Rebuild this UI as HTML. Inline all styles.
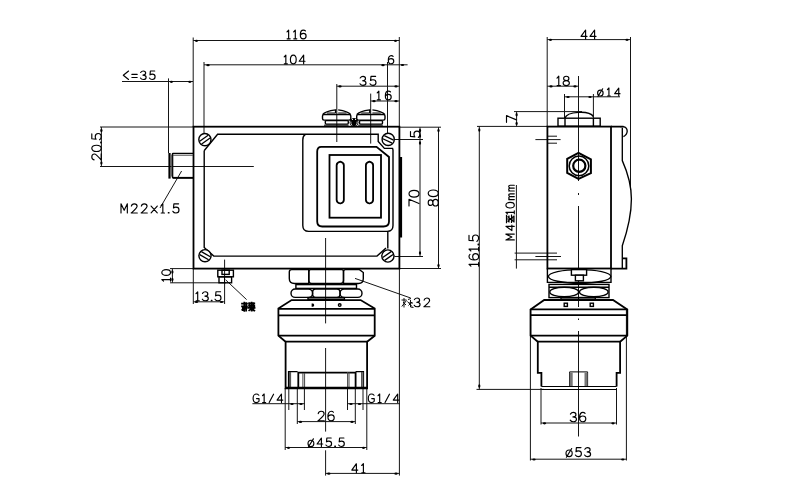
<!DOCTYPE html>
<html><head><meta charset="utf-8">
<style>
html,body{margin:0;padding:0;background:#fff;width:800px;height:500px;overflow:hidden}
svg{display:block}
text{font-family:"Liberation Sans",sans-serif;fill:#1a1a1a}
.t{stroke:#151515;stroke-width:1;fill:none}
.g{stroke:#444;stroke-width:1;fill:none}
.m{stroke:#000;stroke-width:1.4;fill:none}
.k{stroke:#000;stroke-width:1.8;fill:none}
.w{fill:#fff}
</style></head><body>
<svg width="800" height="500" viewBox="0 0 800 500">

<g class="t">
<path d="M193.2,37.5V127 M399.3,37V127 M193.2,40.5H399.3"/>
<path d="M204,62V133 M387.5,62V134 M204,64.8H407.6"/>
<path d="M122,81.5H193 M168.5,78.4V153"/>
<path d="M336.8,84V142 M336.8,86.2H399.3"/>
<path d="M370.7,93.6V143.6 M370.7,101H399.3"/>
<path d="M100,127H193 M100,166.5H253.8 M101.4,127V166.5"/>
<path d="M181.6,171L160,208"/>
<path d="M170,268.6H193 M170,282.8H226 M172.4,268.6V282.8"/>
<path d="M193.3,268V304 M224.6,259.6V304 M193.3,301.8H224.6"/>
<path d="M225.6,279.8L246.6,299.6"/>
<path d="M399,127.2H441 M420,127.2V256.5 M394,139.5H423 M394.4,256.5H423 M438.5,127.2V268.5 M399,268.5H441"/>
<path d="M399.4,268V475.6 M325.5,473.4H399.4"/>
<path d="M252.4,403.7H305 M288.8,388V410 M297.3,388V424 M304.4,388V410"/>
<path d="M347.6,403.7H400 M347.5,388V410 M355.3,388V424 M363,388V410"/>
<path d="M297.3,421.6H355.3"/>
<path d="M285.2,388V450 M366.8,388V450 M285.2,447.5H366.8"/>
<path d="M355,278.4L410.7,298"/>
<path d="M325.6,238V323.4 M325.6,348V431.6 M325.6,450.3V475.6"/>
</g>
<g fill="#000">
<ellipse cx="196.5" cy="40.8" rx="1.7" ry="1.1"/>
<ellipse cx="395.5" cy="40.8" rx="1.7" ry="1.1"/>
<ellipse cx="208" cy="65.2" rx="1.7" ry="1.1"/>
<ellipse cx="383" cy="65.2" rx="1.7" ry="1.1"/>
<ellipse cx="402.5" cy="65" rx="1.7" ry="1.1"/>
<ellipse cx="171.4" cy="81.8" rx="1.7" ry="1.1"/>
<ellipse cx="189.8" cy="81.8" rx="1.7" ry="1.1"/>
<ellipse cx="340" cy="86.4" rx="1.7" ry="1.1"/>
<ellipse cx="396" cy="86.4" rx="1.7" ry="1.1"/>
<ellipse cx="374" cy="101.2" rx="1.7" ry="1.1"/>
<ellipse cx="396" cy="101.2" rx="1.7" ry="1.1"/>
<ellipse cx="196.5" cy="302" rx="1.7" ry="1.1"/>
<ellipse cx="221.5" cy="302" rx="1.7" ry="1.1"/>
<ellipse cx="300.5" cy="421.9" rx="1.7" ry="1.1"/>
<ellipse cx="352" cy="421.9" rx="1.7" ry="1.1"/>
<ellipse cx="288.5" cy="447.8" rx="1.7" ry="1.1"/>
<ellipse cx="363.5" cy="447.8" rx="1.7" ry="1.1"/>
<ellipse cx="328.8" cy="473.7" rx="1.7" ry="1.1"/>
<ellipse cx="396" cy="473.7" rx="1.7" ry="1.1"/>
<ellipse cx="292" cy="404" rx="1.7" ry="1.1"/>
<ellipse cx="301" cy="404" rx="1.7" ry="1.1"/>
<ellipse cx="351" cy="404" rx="1.7" ry="1.1"/>
<ellipse cx="359.5" cy="404" rx="1.7" ry="1.1"/>
<ellipse cx="101.4" cy="130.5" rx="1.1" ry="1.7"/>
<ellipse cx="101.4" cy="163" rx="1.1" ry="1.7"/>
<ellipse cx="172.4" cy="272" rx="1.1" ry="1.7"/>
<ellipse cx="172.4" cy="279.5" rx="1.1" ry="1.7"/>
<ellipse cx="420" cy="130.5" rx="1.1" ry="1.7"/>
<ellipse cx="420" cy="136" rx="1.1" ry="1.7"/>
<ellipse cx="420" cy="143" rx="1.1" ry="1.7"/>
<ellipse cx="420" cy="253" rx="1.1" ry="1.7"/>
<ellipse cx="438.5" cy="130.5" rx="1.1" ry="1.7"/>
<ellipse cx="438.5" cy="265.5" rx="1.1" ry="1.7"/>
</g>
<rect x="193.5" y="126.7" width="205.9" height="141.9" class="k"/>
<rect x="399.6" y="157" width="2.5" height="80.5" fill="#000"/>
<rect x="168.4" y="153" width="2.2" height="25.6" fill="#000"/>
<path d="M172.6,153.4H193.3 M172.6,153V178 M172.6,177.8H193.3" class="m"/>
<path d="M173,155.2H193 M171.7,154.5V176.6" class="g"/>
<path d="M172.6,177.8H193.3" stroke="#000" stroke-width="1.8"/>
<g class="m">
<path d="M204.1,150.8L217.6,134.2H378.2V141.5L384.4,148.4H392.6L393,150V225.5Q393,231.4 387.2,231.4H308.7Q302.8,231.4 302.8,225.5V140Q302.8,136 305.6,134.2"/>
<path d="M204.2,150.8V247.5L213.8,256.1H377L386,248"/>
<path d="M387.8,231.4V248.4"/>
</g>
<g class="k">
<path d="M321.2,146.8H376.5L389,157V221.5Q389,226.5 383.5,226.5H322.2Q317.2,226.5 317.2,221.5V151.6Q317.2,146.8 321.2,146.8Z"/>
<rect x="329.5" y="155" width="51.5" height="62.7"/>
</g>
<g class="k" stroke-width="1.6">
<path d="M336.65,165.2Q336.65,162.6 340.25,161.7Q343.85,162.6 343.85,165.2V199.9Q343.85,202.6 340.25,203.5Q336.65,202.6 336.65,199.9Z"/>
<path d="M365.9,165.2Q365.9,162.6 369.5,161.7Q373.1,162.6 373.1,165.2V199.9Q373.1,202.6 369.5,203.5Q365.9,202.6 365.9,199.9Z"/>
</g>
<g class="m" stroke-width="1.5">
<circle cx="204.9" cy="139.6" r="6.1" class="w"/>
<circle cx="205" cy="255.7" r="6.1" class="w"/>
<circle cx="388.2" cy="139.4" r="6.1" class="w"/>
<circle cx="387.9" cy="256" r="6.1" class="w"/>
</g>
<g stroke="#000" stroke-width="1.3" fill="none">
<path d="M199.70,141.16L208.15,135.25"/>
<path d="M201.65,143.95L210.10,138.04"/>
<path d="M201.39,251.65L210.31,256.80"/>
<path d="M199.69,254.60L208.61,259.75"/>
<path d="M384.25,135.68L393.59,140.04"/>
<path d="M382.81,138.76L392.15,143.12"/>
<path d="M382.70,257.56L391.15,251.65"/>
<path d="M384.65,260.35L393.10,254.44"/>
</g>
<g class="m" stroke-width="1.5">
<path d="M322.8,114.4Q325,111.3 335.6,109.9V113 M338.2,109.9Q348,111.3 350.6,114.4"/>
<path d="M327,113H335.6 M338.2,113H346.5" stroke-width="1"/>
<rect x="322.5" y="114.5" width="28.3" height="5.6" rx="1.5"/>
<rect x="325.3" y="120.6" width="23" height="3.5" rx="1"/>
<path d="M324,125.2H348.6" stroke-width="1"/>
<path d="M357.0,114.4Q359.2,111.3 369.8,109.9V113 M372.4,109.9Q382.2,111.3 384.8,114.4"/>
<path d="M361.2,113H369.8 M372.4,113H380.7" stroke-width="1"/>
<rect x="356.7" y="114.5" width="28.3" height="5.6" rx="1.5"/>
<rect x="359.5" y="120.6" width="23" height="3.5" rx="1"/>
<path d="M358.2,125.2H382.8" stroke-width="1"/>
</g>
<circle cx="354" cy="122.4" r="4.4" fill="#000"/>
<path d="M350.8,121.5Q350.6,123.8 352,125.5 M357.2,121.5Q357.4,123.8 356,125.5" stroke="#fff" stroke-width="0.8" fill="none"/>
<circle cx="352.4" cy="119.4" r="0.6" fill="#fff"/><circle cx="355.6" cy="119.4" r="0.6" fill="#fff"/>
<g class="m" stroke-width="1.3">
<rect x="217.8" y="270.2" width="15.6" height="6.6"/>
<rect x="222" y="270.2" width="7.2" height="4.2"/>
<rect x="219" y="276.8" width="12.6" height="6"/>
<path d="M224.5,276.8V282.8" stroke-width="1"/>
</g>
<g class="m" stroke-width="1.5">
<path d="M291.5,269.6H308.8V283.5H294.5Q289.3,283.5 289.3,278.5V272Q289.3,269.6 291.5,269.6Z"/>
<path d="M310.5,269.6H342Q343.5,269.6 343.5,272V280.5Q343.5,283.5 340.5,283.5H311.5Q308.8,283.5 308.8,280.5V272Q308.8,269.6 310.5,269.6Z"/>
<path d="M345.3,269.6H359.5L363.3,272.5V278.5Q363.3,283.5 358.5,283.5H343.5V272Q343.5,269.6 345.3,269.6Z"/>
<rect x="295.9" y="284.6" width="60.6" height="3.8"/>
<rect x="291" y="289" width="21.6" height="8.4" rx="4.2"/>
<rect x="312.6" y="289" width="27.4" height="8.4" rx="3"/>
<rect x="340" y="289" width="22" height="8.4" rx="4.2"/>
<rect x="308" y="297.6" width="36.4" height="1.8"/>
</g>
<g class="k" stroke-width="1.7">
<path d="M291.6,300.1H360.6L374.7,308.6V335.7L367.1,341.7V388.4H285.6V341.7L278.4,335.7V308.4Z"/>
<path d="M278.4,308.8H374.7 M278.4,315.3H374.7 M278.4,335.7H374.7 M285.6,341.7H367.1"/>
</g>
<path d="M311.6,303.4H313.2Q315.2,305.1 313.2,306.8H311.6Z" fill="#000"/>
<circle cx="339.7" cy="305.1" r="1.3" class="m" stroke-width="1.2"/>
<g class="m">
<path d="M288.6,388V371.6H297.6 M355.6,371.6H363.4V388"/>
</g>
<g class="k" stroke-width="1.7">
<path d="M298.3,388V372.6H355.6V388"/>
</g>
<g class="g">
<path d="M289.6,372V388 M290.6,372V388 M302.9,373V388 M304.6,373V388 M347.6,372V388 M349,372V388 M361.6,372V388 M363,372V388"/>
</g>
<path d="M285.4,387.9H367" stroke="#000" stroke-width="2.4"/>
<g class="t">
<path d="M547.2,37V127 M630.5,37V190 M547.2,39.6H630.5"/>
<path d="M547.2,86.2H578.5"/>
<path d="M564.5,94V118 M593.4,94V118 M564.5,96.8H620"/>
<path d="M514,111.6H582 M477,126.4H547 M516.6,111.6V126.4"/>
<path d="M479.3,126.4V389.4 M476.5,389.4H544"/>
<path d="M516.4,185V268.6"/>
<path d="M547,136.2H557 M535.4,139.6H560.6 M547,143.2H557"/>
<path d="M514.6,253.1H557 M535.4,256.5H561 M514.6,259.8H557"/>
<path d="M578.5,76V181 M578.5,193V195 M578.5,206V307 M578.5,318.5V320 M578.5,331V436.5"/>
<path d="M541,388V424.5 M616.5,388V424.5 M541,423H616.5"/>
<path d="M530.4,309V460.5 M626.4,309V460.5 M530.4,459.2H626.4"/>
</g>
<g fill="#000">
<ellipse cx="550.5" cy="39.8" rx="1.7" ry="1.1"/>
<ellipse cx="627" cy="39.8" rx="1.7" ry="1.1"/>
<ellipse cx="551" cy="86.4" rx="1.7" ry="1.1"/>
<ellipse cx="575" cy="86.4" rx="1.7" ry="1.1"/>
<ellipse cx="568" cy="97" rx="1.7" ry="1.1"/>
<ellipse cx="590" cy="97" rx="1.7" ry="1.1"/>
<ellipse cx="544.5" cy="423.3" rx="1.7" ry="1.1"/>
<ellipse cx="613" cy="423.3" rx="1.7" ry="1.1"/>
<ellipse cx="534" cy="459.5" rx="1.7" ry="1.1"/>
<ellipse cx="622.8" cy="459.5" rx="1.7" ry="1.1"/>
<ellipse cx="516.6" cy="114.8" rx="1.1" ry="1.7"/>
<ellipse cx="516.6" cy="123.4" rx="1.1" ry="1.7"/>
<ellipse cx="479.3" cy="130" rx="1.1" ry="1.7"/>
<ellipse cx="479.3" cy="386" rx="1.1" ry="1.7"/>
</g>
<g class="k">
<rect x="547.4" y="126.6" width="63.6" height="141.9"/>
<path d="M611,126.6H623.5 M611,268.6H626.4V258.4H622.8" />
<path d="M620,126.6H623.2Q627.2,127.2 627.2,131.2Q627,134.8 623.4,136.6 M622.3,128V160.6C626.5,170 631.4,183 631.4,199C631.4,216 627,232 622.3,245.8V268.6" stroke-width="1.35"/>
</g>
<g class="m">
<path d="M565,118C567,111.5 589,110 593.4,116.5"/>
<rect x="558" y="118.2" width="42.2" height="8"/>
<path d="M565,118.2V126.2 M593.4,118.2V126.2"/>
<path d="M578.5,152.9L590.9,159.3V173.1L578.5,178.9L567.2,172.8V158.9Z" stroke-width="2"/>
<circle cx="579" cy="165.9" r="9.8" stroke-width="1.5"/>
<circle cx="579.3" cy="165.8" r="6.1" stroke-width="2.2"/>
</g>
<g class="m">
<path d="M547.4,268.6V282.4H611V268.6"/>
<ellipse cx="579.6" cy="276.4" rx="31.2" ry="6.8"/>
<rect x="571.4" y="269.6" width="15.2" height="5.6" class="w"/>
<rect x="575.4" y="275.2" width="8" height="5.6" class="w"/>
<rect x="549" y="284.4" width="60" height="13.2"/>
<path d="M549,287.2H609"/>
<ellipse cx="564.2" cy="292" rx="14.4" ry="4.8"/><ellipse cx="593.8" cy="292" rx="14.3" ry="4.8"/>
<rect x="561" y="297.6" width="34.3" height="1.9"/>
</g>
<g class="k" stroke-width="1.7">
<path d="M616.6,386.5V372.9H620.1V341.7L627.3,335.6V309.5L613,300H544.2L530.6,309.5V335.6L537.8,341.7V372.9H541.4V386.5"/>
<path d="M530.6,309.3H627.3 M530.6,315.2H627.3 M530.6,335.6H627.3 M537.8,341.7H620.1"/>
</g>
<rect x="564.2" y="303.2" width="3.2" height="3.2" class="m" stroke-width="1.2"/>
<rect x="590.2" y="303.2" width="3.2" height="3.2" class="m" stroke-width="1.2"/>
<path d="M569.6,387V371.9H587.6V387" stroke="#000" stroke-width="1" fill="none"/>
<path d="M571.2,372.5V386.6 M586,372.5V386.6" stroke="#777" stroke-width="3" fill="none"/>
<path d="M541.4,386.5H616.6 M541.4,389.5H616.6" stroke="#000" stroke-width="1.15" fill="none"/>
<g transform="translate(287,38.8) scale(0.9667) translate(0,-9)" fill="none" stroke="#000" stroke-width="1.190" stroke-linecap="round" stroke-linejoin="round"><path transform="translate(-1.00,0)" d="M1,1.8L2.7,0V9M1.1,9H4.3"/><path transform="translate(5.88,0)" d="M1,1.8L2.7,0V9M1.1,9H4.3"/><path transform="translate(13.76,0)" d="M5.3,0.9C4.8,0.3 4,0 3.2,0C1.2,0 0,2 0,5C0,7.6 1.2,9 3,9C4.8,9 6,7.8 6,6.1C6,4.4 4.8,3.4 3.1,3.4C1.6,3.4 0.5,4.2 0,5.4"/></g>
<g transform="translate(284.2,63.8) scale(0.9667) translate(0,-9)" fill="none" stroke="#000" stroke-width="1.190" stroke-linecap="round" stroke-linejoin="round"><path transform="translate(-1.00,0)" d="M1,1.8L2.7,0V9M1.1,9H4.3"/><path transform="translate(6.41,0)" d="M3,0C1.1,0 0,1.9 0,4.5C0,7.1 1.1,9 3,9C4.9,9 6,7.1 6,4.5C6,1.9 4.9,0 3,0Z"/><path transform="translate(15.52,0)" d="M4.6,9V0L0,6.4H6"/></g>
<g transform="translate(388.3,63.8) scale(0.9111) translate(0,-9)" fill="none" stroke="#000" stroke-width="1.262" stroke-linecap="round" stroke-linejoin="round"><path transform="translate(0.00,0)" d="M5.3,0.9C4.8,0.3 4,0 3.2,0C1.2,0 0,2 0,5C0,7.6 1.2,9 3,9C4.8,9 6,7.8 6,6.1C6,4.4 4.8,3.4 3.1,3.4C1.6,3.4 0.5,4.2 0,5.4"/></g>
<g transform="translate(123.3,79.5) scale(0.9444) translate(0,-9)" fill="none" stroke="#000" stroke-width="1.218" stroke-linecap="round" stroke-linejoin="round"><path transform="translate(0.00,0)" d="M5.6,0L0,4.5L5.6,9"/><path transform="translate(9.09,0)" d="M0,3.6H5.6M0,6.9H5.6"/><path transform="translate(18.18,0)" d="M0.2,1.6C0.9,0.5 1.9,0 3,0C4.5,0 5.5,0.9 5.5,2.2C5.5,3.5 4.4,4.3 2.6,4.3C4.6,4.3 6,5.2 6,6.6C6,8.1 4.7,9 3,9C1.6,9 0.6,8.4 0,7.4"/><path transform="translate(27.67,0)" d="M5.6,0H1L0.6,4.1C1.3,3.5 2.1,3.3 3,3.3C4.8,3.3 6,4.5 6,6.1C6,7.8 4.8,9 3,9C1.6,9 0.6,8.4 0,7.4"/></g>
<g transform="translate(360,85.4) scale(1.0000) translate(0,-9)" fill="none" stroke="#000" stroke-width="1.150" stroke-linecap="round" stroke-linejoin="round"><path transform="translate(0.00,0)" d="M0.2,1.6C0.9,0.5 1.9,0 3,0C4.5,0 5.5,0.9 5.5,2.2C5.5,3.5 4.4,4.3 2.6,4.3C4.6,4.3 6,5.2 6,6.6C6,8.1 4.7,9 3,9C1.6,9 0.6,8.4 0,7.4"/><path transform="translate(10.00,0)" d="M5.6,0H1L0.6,4.1C1.3,3.5 2.1,3.3 3,3.3C4.8,3.3 6,4.5 6,6.1C6,7.8 4.8,9 3,9C1.6,9 0.6,8.4 0,7.4"/></g>
<g transform="translate(377.2,99.9) scale(0.9778) translate(0,-9)" fill="none" stroke="#000" stroke-width="1.176" stroke-linecap="round" stroke-linejoin="round"><path transform="translate(-1.00,0)" d="M1,1.8L2.7,0V9M1.1,9H4.3"/><path transform="translate(8.32,0)" d="M5.3,0.9C4.8,0.3 4,0 3.2,0C1.2,0 0,2 0,5C0,7.6 1.2,9 3,9C4.8,9 6,7.8 6,6.1C6,4.4 4.8,3.4 3.1,3.4C1.6,3.4 0.5,4.2 0,5.4"/></g>
<g transform="translate(101.2,160.1) rotate(-90) scale(1.0444) translate(0,-9)" fill="none" stroke="#000" stroke-width="1.101" stroke-linecap="round" stroke-linejoin="round"><path transform="translate(0.00,0)" d="M0.2,2.2C0.5,0.8 1.6,0 3,0C4.6,0 5.8,1 5.8,2.5C5.8,4.2 4.2,5.4 0,9H6"/><path transform="translate(8.26,0)" d="M3,0C1.1,0 0,1.9 0,4.5C0,7.1 1.1,9 3,9C4.9,9 6,7.1 6,4.5C6,1.9 4.9,0 3,0Z"/><path transform="translate(16.01,0)" d="M0.5,8.5h0.7v0.5h-0.7z"/><path transform="translate(19.47,0)" d="M5.6,0H1L0.6,4.1C1.3,3.5 2.1,3.3 3,3.3C4.8,3.3 6,4.5 6,6.1C6,7.8 4.8,9 3,9C1.6,9 0.6,8.4 0,7.4"/></g>
<g transform="translate(121,213) scale(1.0222) translate(0,-9)" fill="none" stroke="#000" stroke-width="1.125" stroke-linecap="round" stroke-linejoin="round"><path transform="translate(0.00,0)" d="M0,9V0L3.1,6.4L6.2,0V9"/><path transform="translate(9.96,0)" d="M0.2,2.2C0.5,0.8 1.6,0 3,0C4.6,0 5.8,1 5.8,2.5C5.8,4.2 4.2,5.4 0,9H6"/><path transform="translate(19.71,0)" d="M0.2,2.2C0.5,0.8 1.6,0 3,0C4.6,0 5.8,1 5.8,2.5C5.8,4.2 4.2,5.4 0,9H6"/><path transform="translate(29.27,0)" d="M0.2,2.2L6.2,8.8M6.2,2.2L0.2,8.8"/><path transform="translate(38.23,0)" d="M1,1.8L2.7,0V9M1.1,9H4.3"/><path transform="translate(45.78,0)" d="M0.5,8.5h0.7v0.5h-0.7z"/><path transform="translate(50.74,0)" d="M5.6,0H1L0.6,4.1C1.3,3.5 2.1,3.3 3,3.3C4.8,3.3 6,4.5 6,6.1C6,7.8 4.8,9 3,9C1.6,9 0.6,8.4 0,7.4"/></g>
<g transform="translate(170.5,281.2) rotate(-90) scale(0.9667) translate(0,-9)" fill="none" stroke="#000" stroke-width="1.190" stroke-linecap="round" stroke-linejoin="round"><path transform="translate(-1.00,0)" d="M1,1.8L2.7,0V9M1.1,9H4.3"/><path transform="translate(6.00,0)" d="M3,0C1.1,0 0,1.9 0,4.5C0,7.1 1.1,9 3,9C4.9,9 6,7.1 6,4.5C6,1.9 4.9,0 3,0Z"/></g>
<g transform="translate(196,300.8) scale(1.0000) translate(0,-9)" fill="none" stroke="#000" stroke-width="1.150" stroke-linecap="round" stroke-linejoin="round"><path transform="translate(-1.00,0)" d="M1,1.8L2.7,0V9M1.1,9H4.3"/><path transform="translate(6.30,0)" d="M0.2,1.6C0.9,0.5 1.9,0 3,0C4.5,0 5.5,0.9 5.5,2.2C5.5,3.5 4.4,4.3 2.6,4.3C4.6,4.3 6,5.2 6,6.6C6,8.1 4.7,9 3,9C1.6,9 0.6,8.4 0,7.4"/><path transform="translate(14.80,0)" d="M0.5,8.5h0.7v0.5h-0.7z"/><path transform="translate(19.00,0)" d="M5.6,0H1L0.6,4.1C1.3,3.5 2.1,3.3 3,3.3C4.8,3.3 6,4.5 6,6.1C6,7.8 4.8,9 3,9C1.6,9 0.6,8.4 0,7.4"/></g>
<g transform="translate(414.2,306.8) scale(0.9778) translate(0,-9)" fill="none" stroke="#000" stroke-width="1.176" stroke-linecap="round" stroke-linejoin="round"><path transform="translate(0.00,0)" d="M0.2,1.6C0.9,0.5 1.9,0 3,0C4.5,0 5.5,0.9 5.5,2.2C5.5,3.5 4.4,4.3 2.6,4.3C4.6,4.3 6,5.2 6,6.6C6,8.1 4.7,9 3,9C1.6,9 0.6,8.4 0,7.4"/><path transform="translate(9.95,0)" d="M0.2,2.2C0.5,0.8 1.6,0 3,0C4.6,0 5.8,1 5.8,2.5C5.8,4.2 4.2,5.4 0,9H6"/></g>
<g transform="translate(420,137.5) rotate(-90) scale(1.0556) translate(0,-9)" fill="none" stroke="#000" stroke-width="1.089" stroke-linecap="round" stroke-linejoin="round"><path transform="translate(0.00,0)" d="M5.6,0H1L0.6,4.1C1.3,3.5 2.1,3.3 3,3.3C4.8,3.3 6,4.5 6,6.1C6,7.8 4.8,9 3,9C1.6,9 0.6,8.4 0,7.4"/></g>
<g transform="translate(419,206) rotate(-90) scale(1.1111) translate(0,-9)" fill="none" stroke="#000" stroke-width="1.035" stroke-linecap="round" stroke-linejoin="round"><path transform="translate(0.00,0)" d="M0,0H6L2.2,9"/><path transform="translate(8.04,0)" d="M3,0C1.1,0 0,1.9 0,4.5C0,7.1 1.1,9 3,9C4.9,9 6,7.1 6,4.5C6,1.9 4.9,0 3,0Z"/></g>
<g transform="translate(438.2,206) rotate(-90) scale(1.1111) translate(0,-9)" fill="none" stroke="#000" stroke-width="1.035" stroke-linecap="round" stroke-linejoin="round"><path transform="translate(0.00,0)" d="M3,4.2C1.6,4.2 0.5,3.4 0.5,2.1C0.5,0.9 1.6,0 3,0C4.4,0 5.5,0.9 5.5,2.1C5.5,3.4 4.4,4.2 3,4.2C1.3,4.2 0,5.2 0,6.6C0,8 1.3,9 3,9C4.7,9 6,8 6,6.6C6,5.2 4.7,4.2 3,4.2Z"/><path transform="translate(8.40,0)" d="M3,0C1.1,0 0,1.9 0,4.5C0,7.1 1.1,9 3,9C4.9,9 6,7.1 6,4.5C6,1.9 4.9,0 3,0Z"/></g>
<g transform="translate(253.1,402.6) scale(0.9556) translate(0,-9)" fill="none" stroke="#000" stroke-width="1.203" stroke-linecap="round" stroke-linejoin="round"><path transform="translate(0.00,0)" d="M6,1.3C5.3,0.4 4.4,0 3.2,0C1.3,0 0,1.9 0,4.5C0,7.1 1.3,9 3.2,9C4.5,9 5.5,8.5 6.2,7.6V4.8H3.6"/><path transform="translate(8.86,0)" d="M1,1.8L2.7,0V9M1.1,9H4.3"/><path transform="translate(16.82,0)" d="M0,9L4.6,0.2"/><path transform="translate(25.08,0)" d="M4.6,9V0L0,6.4H6"/></g>
<g transform="translate(368.3,402.6) scale(0.9556) translate(0,-9)" fill="none" stroke="#000" stroke-width="1.203" stroke-linecap="round" stroke-linejoin="round"><path transform="translate(0.00,0)" d="M6,1.3C5.3,0.4 4.4,0 3.2,0C1.3,0 0,1.9 0,4.5C0,7.1 1.3,9 3.2,9C4.5,9 5.5,8.5 6.2,7.6V4.8H3.6"/><path transform="translate(9.21,0)" d="M1,1.8L2.7,0V9M1.1,9H4.3"/><path transform="translate(17.52,0)" d="M0,9L4.6,0.2"/><path transform="translate(26.13,0)" d="M4.6,9V0L0,6.4H6"/></g>
<g transform="translate(318,420.8) scale(1.0556) translate(0,-9)" fill="none" stroke="#000" stroke-width="1.089" stroke-linecap="round" stroke-linejoin="round"><path transform="translate(0.00,0)" d="M0.2,2.2C0.5,0.8 1.6,0 3,0C4.6,0 5.8,1 5.8,2.5C5.8,4.2 4.2,5.4 0,9H6"/><path transform="translate(9.35,0)" d="M5.3,0.9C4.8,0.3 4,0 3.2,0C1.2,0 0,2 0,5C0,7.6 1.2,9 3,9C4.8,9 6,7.8 6,6.1C6,4.4 4.8,3.4 3.1,3.4C1.6,3.4 0.5,4.2 0,5.4"/></g>
<g transform="translate(308,446.5) scale(0.9444) translate(0,-9)" fill="none" stroke="#000" stroke-width="1.218" stroke-linecap="round" stroke-linejoin="round"><path transform="translate(-0.20,0)" d="M3.3,2.4C1.5,2.4 0.2,3.9 0.2,5.7C0.2,7.6 1.5,9 3.3,9C5.1,9 6.4,7.6 6.4,5.7C6.4,3.9 5.1,2.4 3.3,2.4ZM0.6,9.6L5.9,0.9"/><path transform="translate(9.58,0)" d="M4.6,9V0L0,6.4H6"/><path transform="translate(18.97,0)" d="M5.6,0H1L0.6,4.1C1.3,3.5 2.1,3.3 3,3.3C4.8,3.3 6,4.5 6,6.1C6,7.8 4.8,9 3,9C1.6,9 0.6,8.4 0,7.4"/><path transform="translate(27.85,0)" d="M0.5,8.5h0.7v0.5h-0.7z"/><path transform="translate(32.44,0)" d="M5.6,0H1L0.6,4.1C1.3,3.5 2.1,3.3 3,3.3C4.8,3.3 6,4.5 6,6.1C6,7.8 4.8,9 3,9C1.6,9 0.6,8.4 0,7.4"/></g>
<g transform="translate(351.8,472.7) scale(1.0000) translate(0,-9)" fill="none" stroke="#000" stroke-width="1.150" stroke-linecap="round" stroke-linejoin="round"><path transform="translate(0.00,0)" d="M4.6,9V0L0,6.4H6"/><path transform="translate(8.90,0)" d="M1,1.8L2.7,0V9M1.1,9H4.3"/></g>
<g transform="translate(581,39) scale(1.0000) translate(0,-9)" fill="none" stroke="#000" stroke-width="1.150" stroke-linecap="round" stroke-linejoin="round"><path transform="translate(0.00,0)" d="M4.6,9V0L0,6.4H6"/><path transform="translate(9.00,0)" d="M4.6,9V0L0,6.4H6"/></g>
<g transform="translate(557,85.6) scale(1.0444) translate(0,-9)" fill="none" stroke="#000" stroke-width="1.101" stroke-linecap="round" stroke-linejoin="round"><path transform="translate(-1.00,0)" d="M1,1.8L2.7,0V9M1.1,9H4.3"/><path transform="translate(5.87,0)" d="M3,4.2C1.6,4.2 0.5,3.4 0.5,2.1C0.5,0.9 1.6,0 3,0C4.4,0 5.5,0.9 5.5,2.1C5.5,3.4 4.4,4.2 3,4.2C1.3,4.2 0,5.2 0,6.6C0,8 1.3,9 3,9C4.7,9 6,8 6,6.6C6,5.2 4.7,4.2 3,4.2Z"/></g>
<g transform="translate(597.6,96) scale(0.8889) translate(0,-9)" fill="none" stroke="#000" stroke-width="1.294" stroke-linecap="round" stroke-linejoin="round"><path transform="translate(-0.20,0)" d="M3.3,2.4C1.5,2.4 0.2,3.9 0.2,5.7C0.2,7.6 1.5,9 3.3,9C5.1,9 6.4,7.6 6.4,5.7C6.4,3.9 5.1,2.4 3.3,2.4ZM0.6,9.6L5.9,0.9"/><path transform="translate(10.05,0)" d="M1,1.8L2.7,0V9M1.1,9H4.3"/><path transform="translate(19.20,0)" d="M4.6,9V0L0,6.4H6"/></g>
<g transform="translate(516.5,122.3) rotate(-90) scale(1.1111) translate(0,-9)" fill="none" stroke="#000" stroke-width="1.035" stroke-linecap="round" stroke-linejoin="round"><path transform="translate(0.00,0)" d="M0,0H6L2.2,9"/></g>
<g transform="translate(478.6,266.2) rotate(-90) scale(1.0667) translate(0,-9)" fill="none" stroke="#000" stroke-width="1.078" stroke-linecap="round" stroke-linejoin="round"><path transform="translate(-1.00,0)" d="M1,1.8L2.7,0V9M1.1,9H4.3"/><path transform="translate(5.79,0)" d="M5.3,0.9C4.8,0.3 4,0 3.2,0C1.2,0 0,2 0,5C0,7.6 1.2,9 3,9C4.8,9 6,7.8 6,6.1C6,4.4 4.8,3.4 3.1,3.4C1.6,3.4 0.5,4.2 0,5.4"/><path transform="translate(13.28,0)" d="M1,1.8L2.7,0V9M1.1,9H4.3"/><path transform="translate(19.56,0)" d="M0.5,8.5h0.7v0.5h-0.7z"/><path transform="translate(23.25,0)" d="M5.6,0H1L0.6,4.1C1.3,3.5 2.1,3.3 3,3.3C4.8,3.3 6,4.5 6,6.1C6,7.8 4.8,9 3,9C1.6,9 0.6,8.4 0,7.4"/></g>
<g transform="translate(514.3,239.9) rotate(-90) scale(0.9333) translate(0,-9)" fill="none" stroke="#000" stroke-width="1.232" stroke-linecap="round" stroke-linejoin="round"><path transform="translate(0.00,0)" d="M0,9V0L3.1,6.4L6.2,0V9"/><path transform="translate(9.96,0)" d="M4.6,9V0L0,6.4H6"/></g>
<g transform="translate(514.3,213.9) rotate(-90) scale(0.9333) translate(0,-9)" fill="none" stroke="#000" stroke-width="1.232" stroke-linecap="round" stroke-linejoin="round"><path transform="translate(-1.00,0)" d="M1,1.8L2.7,0V9M1.1,9H4.3"/><path transform="translate(6.32,0)" d="M3,0C1.1,0 0,1.9 0,4.5C0,7.1 1.1,9 3,9C4.9,9 6,7.1 6,4.5C6,1.9 4.9,0 3,0Z"/><path transform="translate(15.33,0)" d="M0,9V3M0,4.4C0.4,3.4 1,3 1.7,3C2.6,3 3.1,3.6 3.1,4.5V9M3.1,4.5C3.5,3.5 4.1,3 4.8,3C5.7,3 6.2,3.6 6.2,4.5V9"/><path transform="translate(24.55,0)" d="M0,9V3M0,4.4C0.4,3.4 1,3 1.7,3C2.6,3 3.1,3.6 3.1,4.5V9M3.1,4.5C3.5,3.5 4.1,3 4.8,3C5.7,3 6.2,3.6 6.2,4.5V9"/></g>
<g transform="translate(570.2,421.8) scale(1.0444) translate(0,-9)" fill="none" stroke="#000" stroke-width="1.101" stroke-linecap="round" stroke-linejoin="round"><path transform="translate(0.00,0)" d="M0.2,1.6C0.9,0.5 1.9,0 3,0C4.5,0 5.5,0.9 5.5,2.2C5.5,3.5 4.4,4.3 2.6,4.3C4.6,4.3 6,5.2 6,6.6C6,8.1 4.7,9 3,9C1.6,9 0.6,8.4 0,7.4"/><path transform="translate(8.94,0)" d="M5.3,0.9C4.8,0.3 4,0 3.2,0C1.2,0 0,2 0,5C0,7.6 1.2,9 3,9C4.8,9 6,7.8 6,6.1C6,4.4 4.8,3.4 3.1,3.4C1.6,3.4 0.5,4.2 0,5.4"/></g>
<g transform="translate(566,456.6) scale(1.0000) translate(0,-9)" fill="none" stroke="#000" stroke-width="1.150" stroke-linecap="round" stroke-linejoin="round"><path transform="translate(-0.20,0)" d="M3.3,2.4C1.5,2.4 0.2,3.9 0.2,5.7C0.2,7.6 1.5,9 3.3,9C5.1,9 6.4,7.6 6.4,5.7C6.4,3.9 5.1,2.4 3.3,2.4ZM0.6,9.6L5.9,0.9"/><path transform="translate(9.40,0)" d="M5.6,0H1L0.6,4.1C1.3,3.5 2.1,3.3 3,3.3C4.8,3.3 6,4.5 6,6.1C6,7.8 4.8,9 3,9C1.6,9 0.6,8.4 0,7.4"/><path transform="translate(18.60,0)" d="M0.2,1.6C0.9,0.5 1.9,0 3,0C4.5,0 5.5,0.9 5.5,2.2C5.5,3.5 4.4,4.3 2.6,4.3C4.6,4.3 6,5.2 6,6.6C6,8.1 4.7,9 3,9C1.6,9 0.6,8.4 0,7.4"/></g>
<g stroke="#000" stroke-width="1.7" fill="none" stroke-linecap="square">
<path d="M242,303.6H247 M244.3,302.6V310.8 M242,306.3H247 M242.3,309.8L247,307.8 M246.2,303.2V310.6 M242.8,308.2H246.5"/>
<path d="M249,303.4H254.3 M249,305.6H254.3 M251.6,302.6V310.6 M248.8,307.8H254.6 M249.2,310.4L254.2,306.6 M249.6,306.8L254.4,310.6 M253.4,303V310.4 M249.4,303V306"/>
</g>
<g stroke="#111" stroke-width="1" fill="none">
<path d="M401.5,300H406.5 M404,298V307.5 M401.8,306.5L406.5,300.5 M403,302L406,305 M407.5,301.5L412,306.5 M408,299.5L411,298.5 M409,303H413 M410.5,300V307L413.5,307.5 M408.5,305.5L412,302"/>
</g>
<g stroke="#000" stroke-width="1.2" fill="none">
<path d="M506.5,223.3V214.8 M509,222.5V215.5 M511.5,223V214.5 M514,222.5V215.5 M506.5,219H514 M507.5,216.5L513.5,221.5 M507.5,221.5L513.5,216.5"/>
</g>
</svg>
</body></html>
